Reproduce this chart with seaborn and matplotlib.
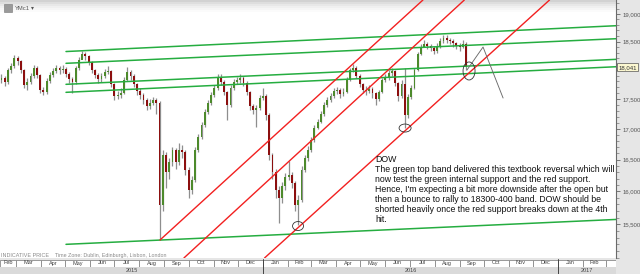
import numpy as np
import pandas as pd
import matplotlib
matplotlib.use("Agg")
import matplotlib.pyplot as plt
import matplotlib.dates as mdates
import matplotlib.ticker as mticker
from matplotlib.patches import Ellipse, Rectangle
from matplotlib.transforms import IdentityTransform, blended_transform_factory
import seaborn as sns

sns.set_style("white")
plt.rcParams['font.family'] = ['Liberation Sans', 'DejaVu Sans']

# ---------------- data (YMc1, one candle per 4 calendar days) ----------------
first_open = 17800
closes = [17823, 17858, 17789, 17997, 18067, 18207, 18154, 17997, 17737, 17789,
          17892, 18032, 17910, 17652, 17617, 17806, 17910, 17980, 18032, 17997,
          18014, 17927, 17841, 17789, 18032, 18172, 18278, 18242, 18137, 17997,
          17910, 17841, 17892, 17962, 17980, 17754, 17549, 17566, 17600, 17823,
          17962, 17892, 17754, 17634, 17566, 17482, 17380, 17431, 17482, 17431,
          15790, 16574, 16303, 16462, 16654, 16462, 16654, 16622, 16334, 16021,
          16177, 16654, 16866, 17063, 17279, 17431, 17566, 17686, 17858, 17789,
          17617, 17397, 17686, 17789, 17823, 17858, 17772, 17617, 17380, 17313,
          17350, 17515, 17549, 17229, 16574, 16303, 16021, 15897, 16083, 16224,
          16255, 16130, 15790, 15866, 16334, 16526, 16654, 16816, 17013, 17113,
          17246, 17397, 17482, 17549, 17634, 17650, 17583, 17617, 17823, 17997,
          18032, 17892, 17754, 17652, 17634, 17669, 17600, 17498, 17617, 17823,
          17858, 17945, 17980, 17772, 17549, 17754, 17229, 17532, 17686, 17997,
          18278, 18402, 18456, 18420, 18384, 18331, 18420, 18509, 18563, 18527,
          18509, 18473, 18420, 18400, 18456, 18041]
highs = [17880, 17920, 17900, 18040, 18120, 18260, 18250, 18180, 18020, 17850,
         17940, 18090, 18060, 17930, 17700, 17850, 17960, 18030, 18090, 18070,
         18080, 18050, 17960, 17870, 18070, 18220, 18330, 18320, 18260, 18160,
         18020, 17940, 17950, 18020, 18060, 18000, 17780, 17640, 17680, 17870,
         18050, 17990, 17920, 17780, 17680, 17600, 17520, 17500, 17540, 17520,
         17460, 16660, 16620, 16520, 16700, 16690, 16760, 16740, 16650, 16380,
         16240, 16700, 16920, 17120, 17330, 17480, 17620, 17730, 17930, 17920,
         17820, 17640, 17730, 17840, 17880, 17920, 17890, 17800, 17640, 17420,
         17400, 17570, 17680, 17580, 17260, 16600, 16350, 16080, 16150, 16290,
         16480, 16310, 16160, 15950, 16400, 16570, 16720, 16870, 17060, 17170,
         17290, 17440, 17530, 17600, 17680, 17700, 17680, 17680, 17870, 18040,
         18110, 18060, 17920, 17780, 17720, 17740, 17700, 17620, 17660, 17860,
         17920, 17990, 18030, 18000, 17790, 17820, 18040, 17580, 17740, 18040,
         18320, 18460, 18530, 18500, 18460, 18420, 18470, 18560, 18620, 18610,
         18570, 18540, 18500, 18470, 18520, 18500]
lows = [17740, 17770, 17720, 17760, 17950, 18030, 18090, 17940, 17680, 17660,
        17760, 17860, 17860, 17600, 17560, 17590, 17780, 17870, 17940, 17930,
        17950, 17870, 17780, 17600, 17760, 18000, 18200, 18180, 18080, 17940,
        17850, 17780, 17790, 17850, 17920, 17700, 17480, 17500, 17520, 17580,
        17800, 17830, 17700, 17560, 17490, 17420, 17320, 17330, 17400, 17250,
        15264, 15700, 16050, 16200, 16400, 16350, 16420, 16520, 16250, 15900,
        15960, 16150, 16620, 16830, 17030, 17250, 17400, 17540, 17660, 17740,
        17560, 17150, 17370, 17650, 17750, 17780, 17720, 17560, 17320, 17250,
        17030, 17320, 17480, 17150, 16500, 16200, 15900, 15517, 15820, 16020,
        16180, 16050, 15700, 15487, 15840, 16300, 16480, 16620, 16780, 16990,
        17090, 17220, 17370, 17450, 17510, 17580, 17520, 17550, 17600, 17800,
        17960, 17850, 17700, 17600, 17570, 17600, 17520, 17400, 17460, 17600,
        17790, 17830, 17900, 17720, 17470, 17520, 17013, 17180, 17500, 17670,
        17980, 18260, 18400, 18360, 18330, 18270, 18300, 18390, 18480, 18470,
        18450, 18400, 18360, 18330, 18380, 18000]
dates = pd.date_range("2015-02-07", periods=len(closes), freq="4D")
last_price = 18041

# trend lines: start date, start price, end date, end price
green_start = ["2015-05-02"] * 5
green_end = ["2017-03-14"] * 5
green_p0 = [18322, 18114, 17749, 17612, 15200]
green_p1 = [18786, 18551, 18184, 18054, 15571]
red_start = ["2015-08-26 13:00", "2015-09-25 04:00", "2016-01-03 03:00"]
red_end = ["2016-07-17 13:00", "2016-09-06 21:00", "2016-12-21 12:00"]
red_p0 = [15264, 15000, 15000]
red_p1 = [19260, 19260, 19260]
proj_dates = ["2016-09-10 04:00", "2016-09-30 02:00", "2016-10-24 22:00"]
proj_prices = [17997, 18402, 17515]
circ_dates = ["2016-02-13 17:00", "2016-06-25 10:00", "2016-09-12 17:00"]
circ_prices = [15472, 17013, 17980]
circ_w = [11, 12, 12]
circ_h = [9, 8, 18]

yticks = [15500, 16000, 16500, 17000, 17500, 18000, 18500, 19000]
ytick_labels = ["15,500", "16,000", "16,500", "17,000", "17,500", "", "18,500", "19,000"]
month_names = ["Jan", "Feb", "Mar", "Apr", "May", "Jun", "Jul", "Aug", "Sep", "Oct", "Nov", "Dec"]
years = ["2015", "2016", "2017"]

note = ("DOW\nThe green top band delivered this textbook reversal which will\n"
        "now test the green internal support and the red support.\n"
        "Hence, I'm expecting a bit more downside after the open but\n"
        "then a bounce to rally to 18300-400 band. DOW should be\n"
        "shorted heavily once the red support breaks down at the 4th\n"
        "hit.")

# ---------------- figure layout ----------------
W, H = 640, 274
fig = plt.figure(figsize=(W / 100, H / 100), dpi=100)
fig.patch.set_facecolor('#e6e6e6')


def fa(x0, y0, x1, y1):
    return [x0 / W, 1 - y1 / H, (x1 - x0) / W, (y1 - y0) / H]


xmin = pd.Timestamp("2015-02-09 04:00")
xmax = pd.Timestamp("2017-03-13 22:00")

ax = fig.add_axes(fa(0, 0, 616, 258))
ax.set_facecolor('white')
ax.set_yscale('log')
ax.set_ylim(15000, 19260)
ax.set_xlim(xmin, xmax)

# top toolbar gradient
grad_cols = ['#d2d2d2', '#dedede', '#e8e8e8', '#f0f0f0', '#f6f6f6', '#fbfbfb']
for i, col in enumerate(grad_cols):
    ax.add_patch(Rectangle((0, 1 - (i + 1) * 2 / 258), 1, 2 / 258, transform=ax.transAxes,
                           facecolor=col, edgecolor='none', zorder=0))

# candles
dn = mdates.date2num(dates)
c = np.array(closes, float)
o = np.array([first_open] + closes[:-1], float)
hi = np.array(highs, float)
lo = np.array(lows, float)
up = c >= o
ax.vlines(dn, lo, hi, color='#8e8e8e', lw=0.9, zorder=2)
ax.bar(dn[up], (c - o)[up], bottom=o[up], width=2.3, color='#4d8a2c', lw=0, zorder=3)
ax.bar(dn[~up], (o - c)[~up], bottom=c[~up], width=2.3, color='#8c0f0f', lw=0, zorder=3)

# trend lines via seaborn
rows = []
for i in range(len(green_p0)):
    rows.append(dict(line=f"g{i}", date=pd.Timestamp(green_start[i]), price=green_p0[i]))
    rows.append(dict(line=f"g{i}", date=pd.Timestamp(green_end[i]), price=green_p1[i]))
gdf = pd.DataFrame(rows)
sns.lineplot(data=gdf, x="date", y="price", units="line", estimator=None,
             color='#25ad40', lw=1.1, ax=ax, zorder=4)
rows = []
for i in range(len(red_p0)):
    rows.append(dict(line=f"r{i}", date=pd.Timestamp(red_start[i]), price=red_p0[i]))
    rows.append(dict(line=f"r{i}", date=pd.Timestamp(red_end[i]), price=red_p1[i]))
rdf = pd.DataFrame(rows)
sns.lineplot(data=rdf, x="date", y="price", units="line", estimator=None,
             color='#f22020', lw=1.0, ax=ax, zorder=4)
ax.plot(pd.to_datetime(proj_dates), proj_prices, color='#6a6a6a', lw=0.65, zorder=5)

ax.set_xlim(xmin, xmax)
ax.set_ylim(15000, 19260)
ax.set_xlabel("")
ax.set_ylabel("")
ax.set_xticks([])

# right price axis
ax.yaxis.tick_right()
ax.set_yticks(yticks)
ax.set_yticklabels(ytick_labels)
ax.yaxis.set_minor_locator(mticker.FixedLocator(list(range(15000, 19300, 100))))
ax.yaxis.set_minor_formatter(mticker.NullFormatter())
ax.tick_params(axis='y', which='major', direction='out', length=3, width=0.6, color='#666666',
               labelsize=4.3, labelcolor='#555555', pad=1.5)
ax.tick_params(axis='y', which='minor', direction='out', length=1.8, width=0.5, color='#777777')
for s in ['top', 'left', 'bottom']:
    ax.spines[s].set_visible(False)
ax.spines['right'].set_color('#6a6a6a')
ax.spines['right'].set_linewidth(0.8)

# last price tag
bt = blended_transform_factory(ax.transAxes, ax.transData)
ax.text(1.004, last_price, f"{last_price:,}", transform=bt, fontsize=4.3, color='#333333',
        va='center', ha='left', clip_on=False,
        bbox=dict(boxstyle='square,pad=0.25', fc='#fbf7d0', ec='#555555', lw=0.5))

# annotation text
ax.text(375 / 616, 1 - 155.5 / 258, note, transform=ax.transAxes, fontsize=6.35,
        color='#111111', va='top', ha='left', linespacing=1.13, zorder=6)

# header / footer texts
ax.add_patch(Rectangle((4 / 616, 1 - 12 / 258), 8 / 616, 8 / 258, transform=ax.transAxes,
                       facecolor='#9a9a9a', edgecolor='#777777', lw=0.4, zorder=6))
ax.text(15 / 616, 1 - 8 / 258, "YMc1", transform=ax.transAxes, fontsize=4.2, color='#555555',
        va='center', ha='left', zorder=6)
ax.text(30.5 / 616, 1 - 8 / 258, "\u25be", transform=ax.transAxes, fontsize=4.2, color='#555555',
        va='center', ha='left', zorder=6, family='DejaVu Sans')
ax.text(1 / 616, 1 - 255.5 / 258, "INDICATIVE PRICE    Time Zone: Dublin, Edinburgh, Lisbon, London",
        transform=ax.transAxes, fontsize=3.9, color='#8a8a8a', va='center', ha='left', zorder=6)

# circles around the touches (pixel sized)
fig.canvas.draw()
for d, p, w, h in zip(circ_dates, circ_prices, circ_w, circ_h):
    cx, cy = ax.transData.transform((mdates.date2num(pd.Timestamp(d)), p))
    fig.add_artist(Ellipse((cx, cy), w, h, transform=IdentityTransform(),
                           fill=False, ec='#333333', lw=0.6, zorder=7))

# ---------------- time strips ----------------
ms = fig.add_axes(fa(0, 259.5, 616, 266.5))
ms.set_xlim(mdates.date2num(xmin), mdates.date2num(xmax))
ms.set_ylim(0, 1)
ms.axis('off')
months = pd.date_range("2015-02-01", "2017-03-01", freq="MS")
for i in range(len(months) - 1):
    a = max(mdates.date2num(months[i]), mdates.date2num(xmin))
    b = min(mdates.date2num(months[i + 1]), mdates.date2num(xmax))
    ms.add_patch(Rectangle((a, 0), b - a, 1, facecolor='white', edgecolor='#8a8a8a', lw=0.6))
    ms.text((a + b) / 2, 0.5, month_names[months[i].month - 1], fontsize=4.0, color='#444444',
            ha='center', va='center')
a = mdates.date2num(months[-1])
ms.add_patch(Rectangle((a, 0), mdates.date2num(xmax) - a, 1, facecolor='white',
                       edgecolor='#8a8a8a', lw=0.6))

ys = fig.add_axes(fa(0, 267, 616, 274))
ys.set_xlim(mdates.date2num(xmin), mdates.date2num(xmax))
ys.set_ylim(0, 1)
ys.axis('off')
ys.add_patch(Rectangle((0, 0), 1, 1, transform=ys.transAxes, facecolor='#dadada', edgecolor='none'))
bounds = [mdates.date2num(xmin), mdates.date2num(pd.Timestamp("2016-01-01")),
          mdates.date2num(pd.Timestamp("2017-01-01")), mdates.date2num(xmax)]
for i, yname in enumerate(years):
    ys.text((bounds[i] + bounds[i + 1]) / 2, 0.45, yname, fontsize=4.0, color='#444444',
            ha='center', va='center')
for bnd in bounds[1:3]:
    xx = ys.transData.transform((bnd, 0))[0]
    fig.add_artist(plt.Line2D([xx, xx], [0, 15], transform=IdentityTransform(),
                              color='#444444', lw=0.7))

fig.savefig("out.png", dpi=100, facecolor=fig.get_facecolor())
